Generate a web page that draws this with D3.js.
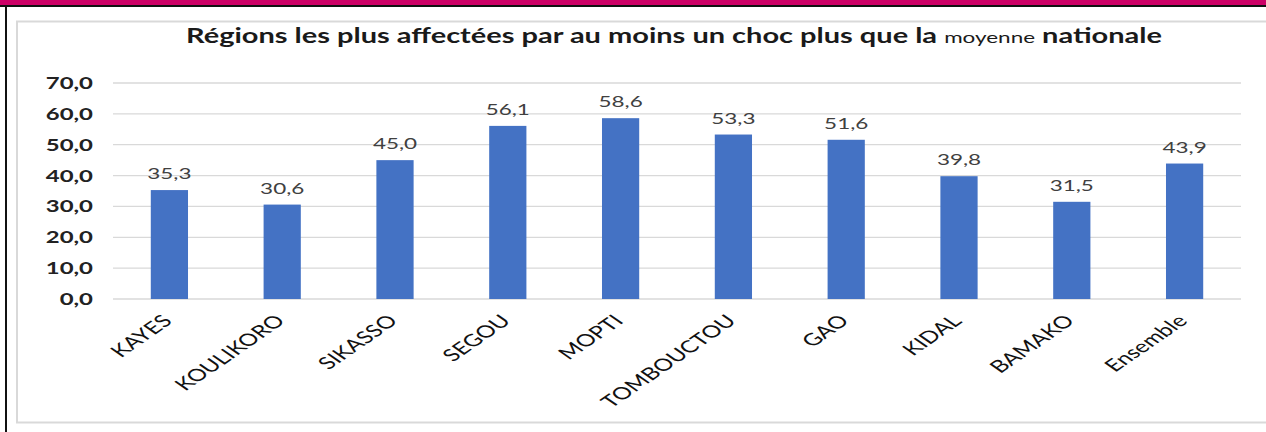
<!DOCTYPE html>
<html>
<head>
<meta charset="utf-8">
<script src="https://cdn.jsdelivr.net/npm/d3@7"></script>
<style>
  body { margin: 0; background: #fff; }
  svg { display: block; font-family: Lato, "Open Sans", sans-serif; }
</style>
</head>
<body>
<svg id="chart" width="1266" height="432"></svg>
<script>
const regions = ["KAYES", "KOULIKORO", "SIKASSO", "SEGOU", "MOPTI", "TOMBOUCTOU", "GAO", "KIDAL", "BAMAKO", "Ensemble"];
const values = [35.3, 30.6, 45.0, 56.1, 58.6, 53.3, 51.6, 39.8, 31.5, 43.9];
const yTicks = [0, 10, 20, 30, 40, 50, 60, 70];

// the whole reference picture is stretched sideways, so text gets the same stretch
const stretch = 1.45;
const fmt = (v) => v.toFixed(1).replace(".", ",");

const svg = d3.select("#chart");
const width = 1266;
const height = 432;
const margin = { top: 83, bottom: 133, left: 113, right: 25 };

// frame: magenta strip, black rules, light grey inner box
svg.append("rect").attr("x", 0).attr("y", 0).attr("width", width).attr("height", 5).attr("fill", "#cc0066");
svg.append("rect").attr("x", 0).attr("y", 5).attr("width", width).attr("height", 2).attr("fill", "#111");
svg.append("rect").attr("x", 5).attr("y", 5).attr("width", 2).attr("height", height - 5).attr("fill", "#111");
svg.append("rect")
  .attr("x", 17).attr("y", 21.5).attr("width", width).attr("height", 401)
  .attr("fill", "none").attr("stroke", "#d9d9d9").attr("stroke-width", 2);

const x = d3.scaleBand()
  .domain(regions)
  .range([margin.left, width - margin.right])
  .paddingInner(0.67)
  .paddingOuter(0.335);

const y = d3.scaleLinear()
  .domain([0, 70])
  .range([height - margin.bottom, margin.top]);

// gridlines
svg.append("g")
  .selectAll("line")
  .data(yTicks)
  .join("line")
  .attr("x1", margin.left)
  .attr("x2", width - margin.right)
  .attr("y1", (d) => y(d))
  .attr("y2", (d) => y(d))
  .attr("stroke", "#d9d9d9")
  .attr("stroke-width", (d) => (d === 0 ? 1.6 : 1.3));

// y labels
svg.append("g")
  .selectAll("text")
  .data(yTicks)
  .join("text")
  .attr("transform", (d) => `translate(93,${y(d) + 6}) scale(${stretch},1)`)
  .attr("text-anchor", "end")
  .attr("font-size", 16.5)
  .attr("font-weight", "bold")
  .attr("fill", "#222")
  .text((d) => fmt(d));

// bars
svg.append("g")
  .selectAll("rect")
  .data(values)
  .join("rect")
  .attr("x", (d, i) => x(regions[i]))
  .attr("y", (d) => y(d))
  .attr("width", x.bandwidth())
  .attr("height", (d) => y(0) - y(d))
  .attr("fill", "#4472c4");

// value labels
svg.append("g")
  .selectAll("text")
  .data(values)
  .join("text")
  .attr("transform", (d, i) => `translate(${x(regions[i]) + x.bandwidth() / 2},${y(d) - 11}) scale(${stretch},1)`)
  .attr("text-anchor", "middle")
  .attr("font-size", 15.5)
  .attr("fill", "#404040")
  .text((d) => fmt(d));

// category labels, rotated then stretched
svg.append("g")
  .selectAll("text")
  .data(regions)
  .join("text")
  .attr("transform", (d) => `translate(${x(d) + x.bandwidth() / 2 + 4},${y(0) + 23}) scale(${stretch},1) rotate(-45)`)
  .attr("text-anchor", "end")
  .attr("font-size", 17)
  .attr("fill", "#111")
  .text((d) => d);

// title with the smaller "moyenne"
const title = svg.append("text")
  .attr("transform", `translate(674,43) scale(${stretch},1)`)
  .attr("text-anchor", "middle")
  .attr("font-weight", "bold")
  .attr("fill", "#1a1a1a");
title.append("tspan").attr("font-size", 20).text("Régions les plus affectées par au moins un choc plus que la ");
title.append("tspan").attr("font-size", 15.5).attr("font-weight", "normal").text("moyenne");
title.append("tspan").attr("font-size", 20).text(" nationale");
</script>
</body>
</html>
